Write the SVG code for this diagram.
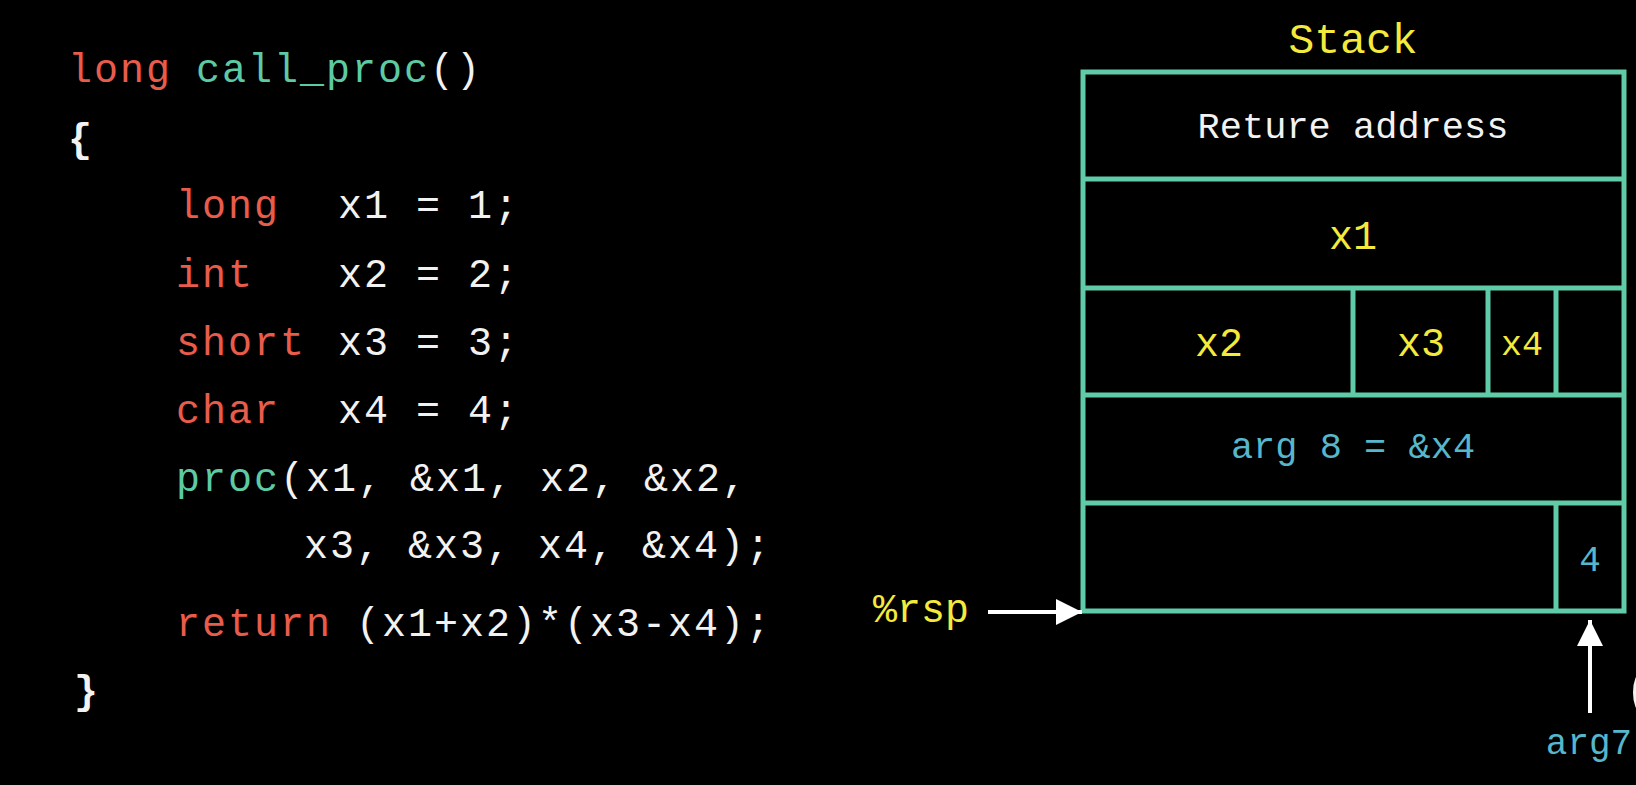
<svg xmlns="http://www.w3.org/2000/svg" width="1636" height="785" viewBox="0 0 1636 785">
<style>
  .code { font-family: "Liberation Mono", "DejaVu Sans Mono", monospace; font-size: 40px; letter-spacing: 2px; fill: #F2F2F2; }
  .kw { fill: #E85C4C; }
  .fn { fill: #5CCBA4; }
  .wt { fill: #F2F2F2; }
  .brace { font-weight: bold; }
  .box { fill: none; stroke: #5FCBA8; stroke-width: 5; }
  .div { stroke: #5FCBA8; stroke-width: 5; }
  .lbl { font-family: "Liberation Mono", "DejaVu Sans Mono", monospace; text-anchor: middle; }
  .yel { fill: #F3EA3C; }
  .blu { fill: #56B6CB; }
  .arrow { stroke: #FFFFFF; stroke-width: 4; fill: none; }
</style>
<defs>
  <marker id="ah" viewBox="0 0 10 10" refX="10" refY="5" markerWidth="6.5" markerHeight="6.5" orient="auto" markerUnits="strokeWidth">
    <path d="M0,0 L10,5 L0,10 Z" fill="#FFFFFF"/>
  </marker>
</defs>
<rect x="0" y="0" width="1636" height="785" fill="#000000"/>

<g id="code">
  <text class="code" y="82"><tspan class="kw" x="68">long</tspan><tspan class="fn" x="196">call_proc</tspan><tspan class="wt" x="430">()</tspan></text>
  <text class="code brace" x="68" y="152">{</text>
  <text class="code" y="218"><tspan class="kw" x="176">long</tspan><tspan class="wt" x="338">x1 = 1;</tspan></text>
  <text class="code" y="287"><tspan class="kw" x="176">int</tspan><tspan class="wt" x="338">x2 = 2;</tspan></text>
  <text class="code" y="355"><tspan class="kw" x="176">short</tspan><tspan class="wt" x="338">x3 = 3;</tspan></text>
  <text class="code" y="423"><tspan class="kw" x="176">char</tspan><tspan class="wt" x="338">x4 = 4;</tspan></text>
  <text class="code" y="491"><tspan class="fn" x="176">proc</tspan><tspan class="wt" x="280">(x1, &amp;x1, x2, &amp;x2,</tspan></text>
  <text class="code" x="304" y="558">x3, &amp;x3, x4, &amp;x4);</text>
  <text class="code" y="636"><tspan class="kw" x="176">return</tspan><tspan class="wt" x="356">(x1+x2)*(x3-x4);</tspan></text>
  <text class="code brace" x="74" y="704">}</text>
</g>

<g id="stack">
  <text class="lbl yel" x="1353" y="53" font-size="43">Stack</text>
  <rect class="box" x="1083" y="72" width="541" height="539"/>
  <g id="row-return">
    <line class="div" x1="1083" y1="179" x2="1624" y2="179"/>
    <text class="lbl" x="1353" y="138" font-size="37" fill="#F2F2F2">Reture address</text>
  </g>
  <g id="row-x1">
    <line class="div" x1="1083" y1="288" x2="1624" y2="288"/>
    <text class="lbl yel" x="1353" y="249" font-size="40">x1</text>
  </g>
  <g id="row-x2-x4">
    <line class="div" x1="1083" y1="395" x2="1624" y2="395"/>
    <line class="div" x1="1353" y1="288" x2="1353" y2="395"/>
    <line class="div" x1="1488" y1="288" x2="1488" y2="395"/>
    <line class="div" x1="1556" y1="288" x2="1556" y2="395"/>
    <text class="lbl yel" x="1219" y="356" font-size="40">x2</text>
    <text class="lbl yel" x="1421" y="356" font-size="40">x3</text>
    <text class="lbl yel" x="1522" y="355" font-size="35">x4</text>
  </g>
  <g id="row-arg8">
    <line class="div" x1="1083" y1="503" x2="1624" y2="503"/>
    <text class="lbl blu" x="1353" y="458" font-size="37">arg 8 = &amp;x4</text>
  </g>
  <g id="row-arg7">
    <line class="div" x1="1556" y1="503" x2="1556" y2="611"/>
    <text class="lbl blu" x="1590" y="571" font-size="36">4</text>
  </g>
</g>

<g id="rsp">
  <text x="873" y="622" font-family="Liberation Mono, DejaVu Sans Mono, monospace" font-size="40" fill="#F3EA3C">%rsp</text>
</g>
<g id="arg7">
  <text class="lbl blu" x="1589" y="754" font-size="36">arg7</text>
</g>
<text x="1623" y="708" font-family="Liberation Mono, monospace" font-size="60" fill="#F2F2F2">(</text>

<g id="connectors">
  <line class="arrow" x1="988" y1="612" x2="1082" y2="612" marker-end="url(#ah)"/>
  <line class="arrow" x1="1590" y1="713" x2="1590" y2="620" marker-end="url(#ah)"/>
</g>
</svg>
